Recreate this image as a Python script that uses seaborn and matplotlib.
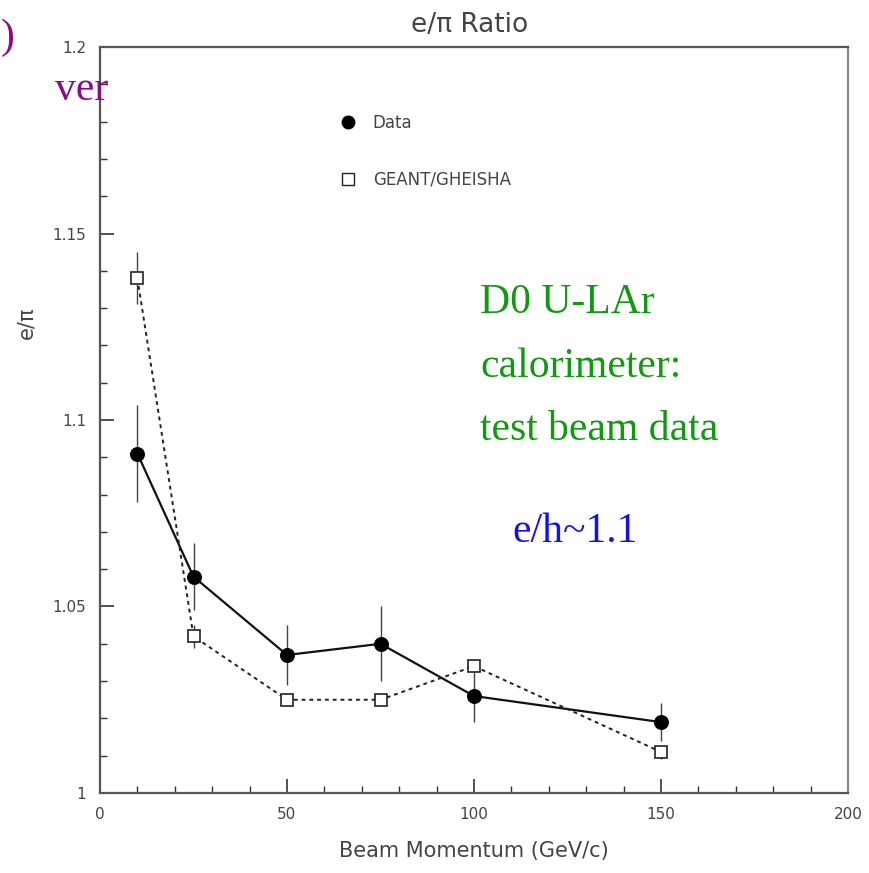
import numpy as np
import pandas as pd
import matplotlib.pyplot as plt
import seaborn as sns
from matplotlib.lines import Line2D
from matplotlib.ticker import MultipleLocator

# values
momentum = [10, 25, 50, 75, 100, 150]
data_ratio = [1.091, 1.058, 1.037, 1.040, 1.026, 1.019]
data_err = [0.013, 0.009, 0.008, 0.010, 0.007, 0.005]
geant_ratio = [1.138, 1.042, 1.025, 1.025, 1.034, 1.011]
geant_err = [0.007, 0.003, 0.001, 0.001, 0.001, 0.002]

x_ticks = [0, 50, 100, 150, 200]
x_labels = ["0", "50", "100", "150", "200"]
y_ticks = [1.0, 1.05, 1.1, 1.15, 1.2]
y_labels = ["1", "1.05", "1.1", "1.15", "1.2"]

df = pd.DataFrame({"p": momentum, "data": data_ratio, "geant": geant_ratio})

sns.set_theme(style="white")
plt.rcParams["font.family"] = ["DejaVu Sans"]

W, H = 869, 873
fig = plt.figure(figsize=(W / 100, H / 100), dpi=100)
ax = fig.add_axes([100 / W, 1 - 793 / H, 748 / W, 746 / H])

ink = "#333333"

ax.errorbar(momentum, data_ratio, yerr=data_err, fmt="none", ecolor="#444444", elinewidth=1.0)
ax.errorbar(momentum, geant_ratio, yerr=geant_err, fmt="none", ecolor="#444444", elinewidth=1.0)

sns.lineplot(data=df, x="p", y="data", ax=ax, color="#111111", linewidth=1.6,
             marker="o", markersize=10, markerfacecolor="black", markeredgecolor="black")
sns.lineplot(data=df, x="p", y="geant", ax=ax, color="#222222", linewidth=1.4,
             linestyle=(0, (2, 2)), marker="s", markersize=9,
             markerfacecolor="white", markeredgecolor="#222222", markeredgewidth=1.2)

ax.set_xlim(0, 200)
ax.set_ylim(1.0, 1.2)
ax.set_xticks(x_ticks, x_labels)
ax.set_yticks(y_ticks, y_labels)
ax.xaxis.set_minor_locator(MultipleLocator(10))
ax.yaxis.set_minor_locator(MultipleLocator(0.01))
ax.tick_params(axis="both", which="major", direction="in", length=10, width=1.2,
               colors=ink, labelsize=11, labelcolor="#444444",
               left=True, bottom=True, top=False, right=False)
ax.tick_params(axis="both", which="minor", direction="in", length=5, width=1.0,
               colors=ink, left=True, bottom=True, top=False, right=False)
ax.tick_params(axis="x", pad=10)
ax.tick_params(axis="y", pad=10)
for s in ax.spines.values():
    s.set_color("#555555")
    s.set_linewidth(1.6)
ax.spines["right"].set_color("#888888")

ax.set_xlabel("Beam Momentum (GeV/c)", fontsize=15, color="#444444", labelpad=14)
ax.set_ylabel("e/π", fontsize=15, color="#444444")
ax.yaxis.set_label_coords(-0.085, 0.63)
fig.text(470 / W, 1 - 25 / H, "e/π Ratio", fontsize=19, color="#444444",
         ha="center", va="center")

handles = [
    Line2D([], [], linestyle="none", marker="o", markersize=9, color="black"),
    Line2D([], [], linestyle="none", marker="s", markersize=8,
           markerfacecolor="white", markeredgecolor="#222222"),
]
leg = ax.legend(handles, ["Data", "GEANT/GHEISHA"], loc="upper left",
                bbox_to_anchor=(0.3, 0.93), frameon=False, fontsize=12,
                labelspacing=2.3, handlelength=1.0, handletextpad=1.0)
for t in leg.get_texts():
    t.set_color("#444444")

serif = ["Liberation Serif", "DejaVu Serif"]
green = "#119911"
fig.text(480 / W, 1 - 313 / H, "D0 U-LAr", fontsize=30, color=green,
         family=serif, va="baseline")
fig.text(480 / W, 1 - 377 / H, "calorimeter:", fontsize=30, color=green,
         family=serif, va="baseline")
fig.text(480 / W, 1 - 440 / H, "test beam data", fontsize=30, color=green,
         family=serif, va="baseline")
fig.text(512 / W, 1 - 542 / H, "e/h~1.1", fontsize=30, color="#1111ee",
         family=serif, va="baseline")

purple = "#8b0a8b"
fig.text(1 / W, 1 - 48 / H, ")", fontsize=30, color=purple, family=serif, va="baseline")
fig.text(55 / W, 1 - 100 / H, "ver", fontsize=30, color=purple, family=serif, va="baseline")

fig.savefig("out.png", dpi=100)
